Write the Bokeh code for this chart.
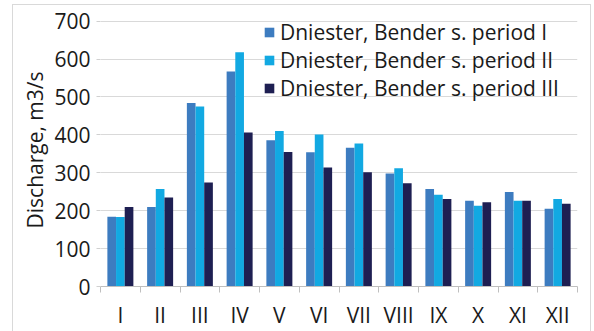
from bokeh.plotting import figure
from bokeh.models import (ColumnDataSource, Range1d, LinearAxis, FixedTicker, Legend, LegendItem)
from bokeh.transform import dodge
from bokeh.embed import file_html
from bokeh.resources import INLINE

months = ["I", "II", "III", "IV", "V", "VI", "VII", "VIII", "IX", "X", "XI", "XII"]
period_1 = [184, 210, 484, 567, 386, 354, 366, 298, 257, 226, 249, 205]
period_2 = [183, 257, 475, 618, 410, 401, 377, 312, 242, 213, 226, 231]
period_3 = [210, 235, 274, 406, 355, 314, 301, 272, 231, 222, 226, 218]
series_names = ["Dniester, Bender s. period I",
                "Dniester, Bender s. period II",
                "Dniester, Bender s. period III"]
y_ticks = [0, 100, 200, 300, 400, 500, 600, 700]

colors = ["#3d7cc0", "#12a9e2", "#1e1f52"]
FONT = "Open Sans"
TEXT = "#1a1a1a"
BORDER = "#d9d9d9"

centers = [i + 0.5 for i in range(len(months))]
bounds = list(range(len(months) + 1))
src = ColumnDataSource(dict(x=centers, month=months, p1=period_1, p2=period_2, p3=period_3))

g = "linear-gradient({0},{0})".format(BORDER)
bg = (f"{g} 12px 4px / 579px 1px no-repeat, "
      f"{g} 12px 4px / 1px 340px no-repeat, "
      f"{g} 590px 4px / 1px 340px no-repeat, white")

# y range extends a little above the top gridline so the legend is not clipped
p = figure(x_range=Range1d(0, len(months)), y_range=Range1d(0, 720),
           width=594, height=331, output_backend="svg", toolbar_location=None,
           x_axis_location=None, min_border_left=100, min_border_right=17,
           min_border_top=13, min_border_bottom=44,
           styles={"background": bg})
p.outline_line_color = None
p.background_fill_color = "white"
p.border_fill_alpha = 0

bw = 0.218
renderers = []
for col, off, c in zip(["p1", "p2", "p3"], [-bw, 0, bw], colors):
    r = p.vbar(x=dodge("x", off), top=col, width=bw,
               source=src, fill_color=c, line_color=None)
    renderers.append(r)

# grid
p.xgrid.grid_line_color = None
p.ygrid.grid_line_color = "#d9d9d9"
p.ygrid.grid_line_width = 1
p.ygrid.ticker = FixedTicker(ticks=y_ticks)

# y axis
ya = p.yaxis[0]
ya.ticker = FixedTicker(ticks=y_ticks)
ya.axis_line_color = None
ya.major_tick_line_color = "#d0d0d0"
ya.major_tick_out = 4
ya.major_tick_in = 0
ya.minor_tick_line_color = None
ya.major_label_text_font = FONT
ya.major_label_text_font_size = "21px"
ya.major_label_text_color = TEXT
ya.major_label_standoff = 6
ya.axis_label = "Discharge, m3/s"
ya.axis_label_text_font = FONT
ya.axis_label_text_font_size = "21px"
ya.axis_label_text_font_style = "normal"
ya.axis_label_text_color = TEXT
ya.axis_label_standoff = 2

# x axis: month labels at category centres, small ticks at category boundaries
xa = LinearAxis(ticker=FixedTicker(ticks=centers, minor_ticks=bounds))
xa.major_label_overrides = {c: m for c, m in zip(centers, months)}
xa.axis_line_color = "#bfbfbf"
xa.major_tick_line_color = None
xa.major_tick_out = 0
xa.major_tick_in = 0
xa.minor_tick_line_color = "#bfbfbf"
xa.minor_tick_out = 6
xa.minor_tick_in = 0
xa.major_label_text_font = FONT
xa.major_label_text_font_size = "21px"
xa.major_label_text_color = TEXT
xa.major_label_standoff = 8
p.add_layout(xa, "below")

legend = Legend(items=[LegendItem(label=n, renderers=[r]) for n, r in zip(series_names, renderers)],
                location=(163, 184), orientation="vertical")
legend.background_fill_alpha = 0
legend.border_line_alpha = 0
legend.padding = 0
legend.margin = 0
legend.spacing = 0
legend.glyph_width = 12
legend.glyph_height = 12
legend.label_height = 28
legend.label_standoff = 5
legend.label_text_font = FONT
legend.label_text_font_size = "21px"
legend.label_text_color = TEXT
p.add_layout(legend, "center")

open("out.html", "w").write(file_html(p, INLINE))
